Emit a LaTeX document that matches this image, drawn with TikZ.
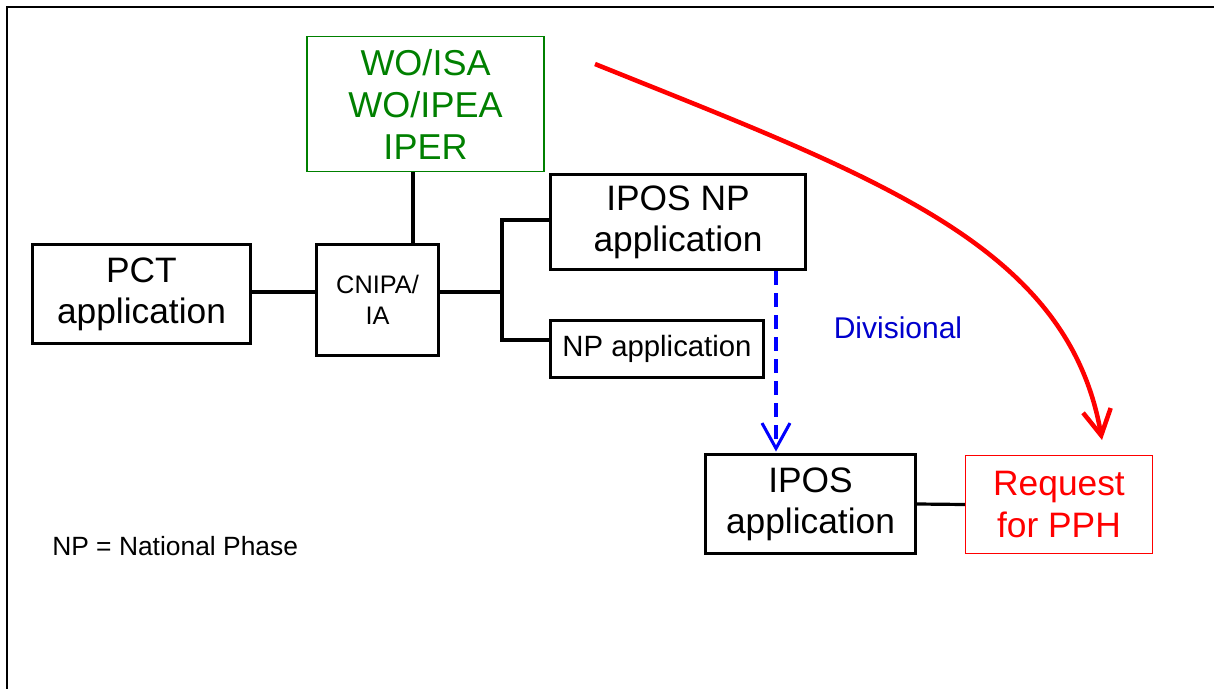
\documentclass[tikz,border=0pt]{standalone}
\usepackage{fontspec}
\setmainfont{Liberation Sans}
\usetikzlibrary{arrows.meta}
\definecolor{wgreen}{RGB}{0,128,0}
\definecolor{dblue}{RGB}{0,0,205}
\definecolor{lblue}{RGB}{0,0,255}
\definecolor{pred}{RGB}{255,0,0}
\begin{document}
\begin{tikzpicture}[x=0.75pt,y=-0.75pt,
  box/.style={draw, line width=2.4pt, inner sep=0pt, align=center},
  thinbox/.style={draw, line width=1.1pt, inner sep=0pt, align=center},
  conn/.style={line width=2.4pt},
  bigtxt/.style={font=\fontsize{26.5}{31}\selectfont},
  wotxt/.style={font=\fontsize{27}{31.5}\selectfont},
  vtip/.style={-{Straight Barb[length=19pt,width=21pt]}}]
\useasboundingbox (0,0) rectangle (1214,689);
\draw[line width=1.6pt] (7,689) -- (7,7) -- (1214,7);

\node[box, bigtxt, minimum width=163.5pt, minimum height=74.25pt] (PCT) at (141.5,294) {PCT\\application};
\node[box, font=\fontsize{19}{23}\selectfont, minimum width=91.5pt, minimum height=83.25pt] (CNIPA) at (377.5,300) {CNIPA/\\IA};
\node[thinbox, wotxt, draw=wgreen, text=wgreen, minimum width=178pt, minimum height=101pt] (WO) at (425.5,104) {WO/ISA\\WO/IPEA\\IPER};
\node[box, bigtxt, minimum width=191.25pt, minimum height=71.25pt] (IPOSNP) at (678,222) {IPOS NP\\application};
\node[box, font=\fontsize{22}{26}\selectfont, minimum width=159.75pt, minimum height=42.75pt] (NPapp) at (657,349) {NP application};
\node[box, bigtxt, minimum width=157.5pt, minimum height=74.25pt] (IPOSapp) at (810.5,504) {IPOS\\application};
\node[thinbox, bigtxt, draw=pred, text=pred, minimum width=140pt, minimum height=73.25pt] (REQ) at (1059,504.5) {Request\\for PPH};

\node[text=dblue, font=\fontsize{22.5}{27}\selectfont] (DIV) at (898,328) {Divisional};
\node[anchor=west, inner sep=0pt, font=\fontsize{19.8}{24}\selectfont] (NOTE) at (52,546) {NP = National Phase};

\coordinate (j) at (502,292);
\coordinate (jt) at (502,220);
\coordinate (jb) at (502,340);
\coordinate (wx) at (413,0);
\coordinate (dv) at (776,0);
\coordinate (rs) at (595,64);
\coordinate (re) at (1102,440);

\draw[conn] (PCT.east |- j) -- (CNIPA.west |- j);
\draw[conn] (WO.south -| wx) -- (CNIPA.north -| wx);
\draw[conn] (CNIPA.east |- j) -- (j);
\draw[conn] (IPOSNP.west |- jt) -- (jt) -- (jb) -- (NPapp.west |- jb);
\draw[conn] (IPOSapp.east) -- (REQ.west);

\draw[lblue, line width=2.3pt, dash pattern=on 10.5pt off 6pt, vtip] (IPOSNP.south -| dv) -- ([yshift=1pt]IPOSapp.north -| dv);
\draw[pred, line width=3.4pt, vtip] (rs) .. controls (873,176) and (1068,244) .. (re);
\end{tikzpicture}
\end{document}
